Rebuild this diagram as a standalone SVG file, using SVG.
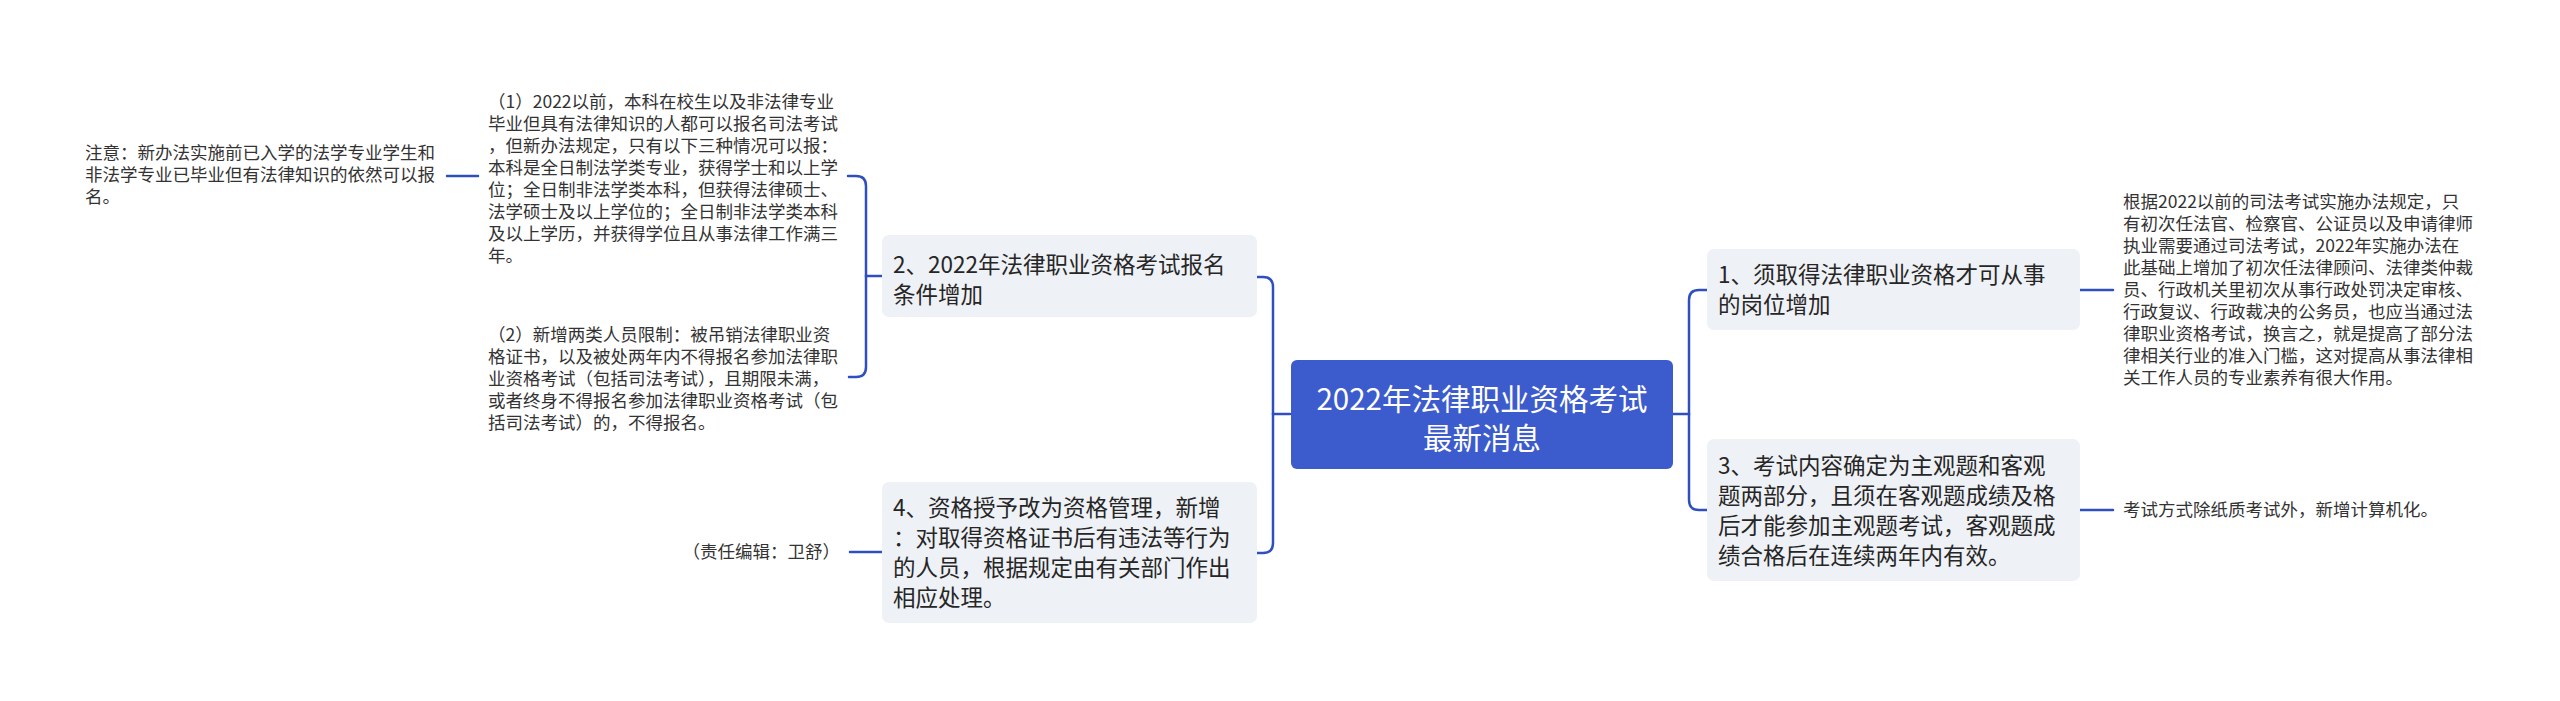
<svg xmlns="http://www.w3.org/2000/svg" width="2560" height="701" viewBox="0 0 2560 701">
<style>
text{font-family:"Noto Sans CJK SC","Noto Sans",sans-serif;fill:#333333}
.leaf{font-size:17.5px}
.node{font-size:22.5px;fill:#262626}
.root{font-size:29.5px;fill:#ffffff}
.box{fill:#eef1f5}
.conn{fill:none;stroke:#2f4fbf;stroke-width:2.5;stroke-linecap:round}
</style>
<rect width="2560" height="701" fill="#ffffff"/>
<g id="connectors">
<path class="conn" d="M1290 414 H1273"/>
<path class="conn" d="M1273 414 V287 Q1273 277 1263 277 H1257"/>
<path class="conn" d="M1273 414 V543 Q1273 553 1263 553 H1257"/>
<path class="conn" d="M1673 414 H1689"/>
<path class="conn" d="M1689 414 V300 Q1689 290 1699 290 H1707"/>
<path class="conn" d="M1689 414 V500 Q1689 510 1699 510 H1707"/>
<path class="conn" d="M882 276 H866"/>
<path class="conn" d="M866 276 V186 Q866 176 856 176 H848"/>
<path class="conn" d="M866 276 V367 Q866 377 856 377 H849"/>
<path class="conn" d="M478 176 H447"/>
<path class="conn" d="M882 552 H850"/>
<path class="conn" d="M2080 290 H2113"/>
<path class="conn" d="M2080 510 H2113"/>
</g>
<g id="root">
<rect x="1291" y="360" width="382" height="109" rx="6" fill="#3c5bcd"/>
<text class="root" x="1482" y="410" text-anchor="middle">2022年法律职业资格考试</text>
<text class="root" x="1482" y="448.5" text-anchor="middle">最新消息</text>
</g>
<g id="n2">
<rect class="box" x="882" y="235" width="375" height="82" rx="7"/>
<text class="node" x="893" y="273">2、2022年法律职业资格考试报名</text>
<text class="node" x="893" y="303">条件增加</text>
</g>
<g id="n4">
<rect class="box" x="882" y="482" width="375" height="141" rx="7"/>
<text class="node" x="893" y="515.5">4、资格授予改为资格管理，新增</text>
<text class="node" x="893" y="545.5">：对取得资格证书后有违法等行为</text>
<text class="node" x="893" y="575.5">的人员，根据规定由有关部门作出</text>
<text class="node" x="893" y="605.5">相应处理。</text>
</g>
<g id="n1">
<rect class="box" x="1707" y="249" width="373" height="81" rx="7"/>
<text class="node" x="1718" y="283">1、须取得法律职业资格才可从事</text>
<text class="node" x="1718" y="313">的岗位增加</text>
</g>
<g id="n3">
<rect class="box" x="1707" y="439" width="373" height="142" rx="7"/>
<text class="node" x="1718" y="474">3、考试内容确定为主观题和客观</text>
<text class="node" x="1718" y="504">题两部分，且须在客观题成绩及格</text>
<text class="node" x="1718" y="534">后才能参加主观题考试，客观题成</text>
<text class="node" x="1718" y="564">绩合格后在连续两年内有效。</text>
</g>
<g id="leaf1">
<text class="leaf" x="488" y="108">（1）2022以前，本科在校生以及非法律专业</text>
<text class="leaf" x="488" y="130">毕业但具有法律知识的人都可以报名司法考试</text>
<text class="leaf" x="488" y="152">，但新办法规定，只有以下三种情况可以报：</text>
<text class="leaf" x="488" y="174">本科是全日制法学类专业，获得学士和以上学</text>
<text class="leaf" x="488" y="196">位；全日制非法学类本科，但获得法律硕士、</text>
<text class="leaf" x="488" y="218">法学硕士及以上学位的；全日制非法学类本科</text>
<text class="leaf" x="488" y="240">及以上学历，并获得学位且从事法律工作满三</text>
<text class="leaf" x="488" y="262">年。</text>
</g>
<g id="note">
<text class="leaf" x="85" y="159">注意：新办法实施前已入学的法学专业学生和</text>
<text class="leaf" x="85" y="181">非法学专业已毕业但有法律知识的依然可以报</text>
<text class="leaf" x="85" y="203">名。</text>
</g>
<g id="leaf2">
<text class="leaf" x="488" y="341">（2）新增两类人员限制：被吊销法律职业资</text>
<text class="leaf" x="488" y="363">格证书，以及被处两年内不得报名参加法律职</text>
<text class="leaf" x="488" y="385">业资格考试（包括司法考试），且期限未满，</text>
<text class="leaf" x="488" y="407">或者终身不得报名参加法律职业资格考试（包</text>
<text class="leaf" x="488" y="429">括司法考试）的，不得报名。</text>
</g>
<g id="editor">
<text class="leaf" x="840" y="558" text-anchor="end">（责任编辑：卫舒）</text>
</g>
<g id="leaf3">
<text class="leaf" x="2123" y="208">根据2022以前的司法考试实施办法规定，只</text>
<text class="leaf" x="2123" y="230">有初次任法官、检察官、公证员以及申请律师</text>
<text class="leaf" x="2123" y="252">执业需要通过司法考试，2022年实施办法在</text>
<text class="leaf" x="2123" y="274">此基础上增加了初次任法律顾问、法律类仲裁</text>
<text class="leaf" x="2123" y="296">员、行政机关里初次从事行政处罚决定审核、</text>
<text class="leaf" x="2123" y="318">行政复议、行政裁决的公务员，也应当通过法</text>
<text class="leaf" x="2123" y="340">律职业资格考试，换言之，就是提高了部分法</text>
<text class="leaf" x="2123" y="362">律相关行业的准入门槛，这对提高从事法律相</text>
<text class="leaf" x="2123" y="384">关工作人员的专业素养有很大作用。</text>
</g>
<g id="leaf4">
<text class="leaf" x="2123" y="516">考试方式除纸质考试外，新增计算机化。</text>
</g>
</svg>
